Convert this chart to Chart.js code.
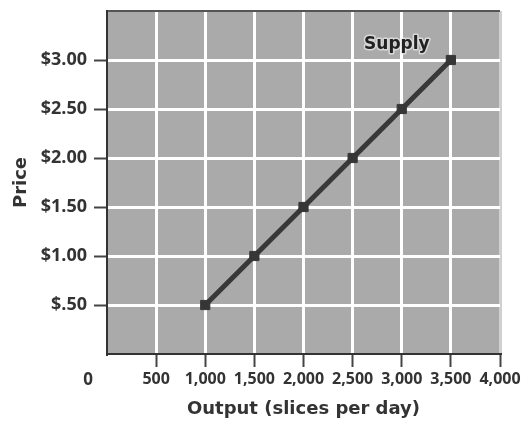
<!DOCTYPE html>
<html>
<head>
<meta charset="utf-8">
<script src="https://cdn.jsdelivr.net/npm/chart.js@4.4.0/dist/chart.umd.min.js"></script>
<style>
  html, body { margin: 0; padding: 0; background: #fff; }
  #wrap { width: 525px; height: 423px; }
</style>
</head>
<body>
<div id="wrap"><canvas id="chart"></canvas></div>
<script>
// supply schedule
const output = [1000, 1500, 2000, 2500, 3000, 3500];
const price = [0.5, 1.0, 1.5, 2.0, 2.5, 3.0];
const xTicks = [0, 500, 1000, 1500, 2000, 2500, 3000, 3500, 4000];
const yTicks = [0, 0.5, 1.0, 1.5, 2.0, 2.5, 3.0, 3.5];
const curveLabel = 'Supply';
const originLabel = '0';

const FONT = "'Open Sans', 'DejaVu Sans', sans-serif";
const WIDE = "'DejaVu Sans', sans-serif";
const TEXT = '#333';

function priceLabel(v) {
    if (v === 0 || v === 3.5) return '';
    if (v < 1) return '$' + v.toFixed(2).slice(1);
    return '$' + v.toFixed(2);
}

// gray plot background + loose labels
const paperPlugin = {
    id: 'paper',
    beforeDraw(chart) {
        const a = chart.chartArea;
        const ctx = chart.ctx;
        ctx.save();
        ctx.fillStyle = '#aaaaaa';
        ctx.fillRect(a.left, a.top, a.right - a.left, a.bottom - a.top);
        ctx.restore();
    },
    afterDraw(chart) {
        const ctx = chart.ctx;
        const xs = chart.scales.x, ys = chart.scales.y;
        ctx.save();
        ctx.font = 'bold 17px ' + FONT;
        ctx.fillStyle = TEXT;
        ctx.textAlign = 'center';
        ctx.textBaseline = 'middle';
        ctx.fillText(originLabel, xs.left - 19, ys.bottom + 26);
        // curve name, with a light halo like the print
        ctx.font = 'bold 17px ' + WIDE;
        const lx = xs.getPixelForValue(2950), ly = ys.getPixelForValue(3.16);
        ctx.strokeStyle = 'rgba(235,235,235,0.7)';
        ctx.lineWidth = 3;
        ctx.lineJoin = 'round';
        ctx.strokeText(curveLabel, lx, ly);
        ctx.fillStyle = '#222';
        ctx.fillText(curveLabel, lx, ly);
        ctx.restore();
    }
};

new Chart(document.getElementById('chart'), {
    type: 'scatter',
    data: {
        datasets: [{
            label: curveLabel,
            data: output.map((x, i) => ({ x: x, y: price[i] })),
            showLine: true,
            borderColor: '#383838',
            borderWidth: 5,
            pointStyle: 'rect',
            pointRadius: 6.5,
            pointBackgroundColor: '#363636',
            pointBorderColor: '#363636',
            pointBorderWidth: 1
        }]
    },
    options: {
        responsive: true,
        maintainAspectRatio: false,
        animation: false,
        layout: { padding: { top: 11, right: 25, left: 0, bottom: 0 } },
        plugins: { legend: { display: false }, tooltip: { enabled: false } },
        scales: {
            x: {
                type: 'linear',
                min: 0, max: 4000,
                afterBuildTicks: s => { s.ticks = xTicks.map(v => ({ value: v })); },
                afterFit: s => { s.height = 69; s.paddingLeft = 0; s.paddingRight = 0; },
                grid: {
                    color: c => c.tick && c.tick.value === 0 ? 'rgba(0,0,0,0)' : (c.tick && c.tick.value === 4000 ? '#d0d0d0' : '#fff'),
                    lineWidth: 3,
                    tickLength: 13,
                    tickWidth: 2,
                    tickColor: c => c.tick && c.tick.value === 0 ? 'rgba(0,0,0,0)' : '#444'
                },
                border: { color: '#333', width: 2 },
                ticks: {
                    padding: 3,
                    color: TEXT,
                    font: { family: FONT, size: 16, weight: 'bold' },
                    maxRotation: 0,
                    autoSkip: false,
                    callback: v => v === 0 ? '' : v.toLocaleString('en-US')
                },
                title: {
                    display: true,
                    text: 'Output (slices per day)',
                    color: TEXT,
                    font: { family: WIDE, size: 18, weight: 'bold' },
                    padding: { top: 0, bottom: 3 }
                }
            },
            y: {
                type: 'linear',
                min: 0, max: 3.5,
                afterBuildTicks: s => { s.ticks = yTicks.map(v => ({ value: v })); },
                afterFit: s => { s.width = 107; s.paddingTop = 0; s.paddingBottom = 0; },
                grid: {
                    color: c => c.tick && c.tick.value === 0 ? 'rgba(0,0,0,0)' : (c.tick && c.tick.value === 3.5 ? '#555' : '#fff'),
                    lineWidth: c => c.tick && c.tick.value === 3.5 ? 2 : 3,
                    tickLength: 13,
                    tickWidth: 2,
                    tickColor: c => c.tick && (c.tick.value === 0 || c.tick.value === 3.5) ? 'rgba(0,0,0,0)' : '#444'
                },
                border: { color: '#333', width: 2 },
                ticks: {
                    padding: 7,
                    color: TEXT,
                    font: { family: FONT, size: 18, weight: 'bold' },
                    autoSkip: false,
                    callback: v => priceLabel(v)
                },
                title: {
                    display: true,
                    text: 'Price',
                    color: TEXT,
                    font: { family: WIDE, size: 18, weight: 'bold' },
                    padding: { top: 11, bottom: 0 }
                }
            }
        }
    },
    plugins: [paperPlugin]
});
</script>
</body>
</html>
